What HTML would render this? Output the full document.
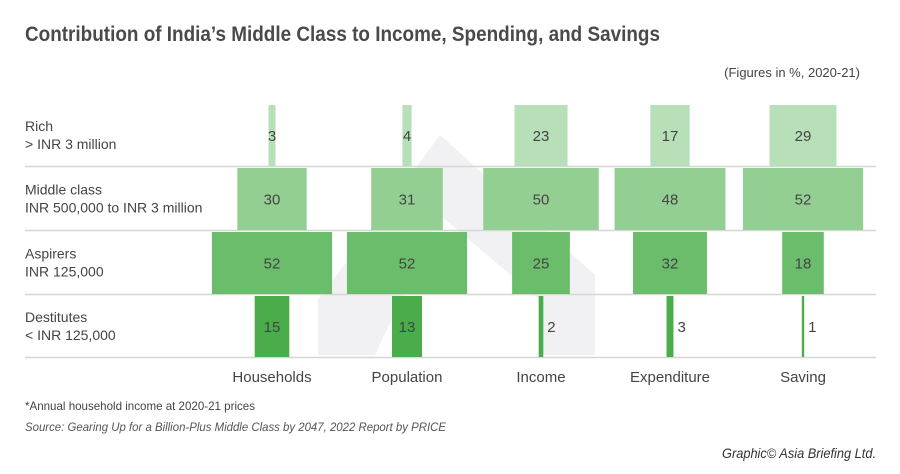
<!DOCTYPE html>
<html><head><meta charset="utf-8"><style>
body{margin:0;background:#fff}
svg{display:block;font-family:"Liberation Sans Narrow","Liberation Sans",sans-serif}
</style></head><body>
<svg id="chart" width="900" height="474" viewBox="0 0 900 474">
<polygon points="318,355 318,300 440,135 595,275 595,355 540,355 540,300 440,215 375,355" fill="#f1f1f4"/>
<text x="25" y="41" font-size="21" font-weight="bold" fill="#4a4a4a" textLength="635" lengthAdjust="spacingAndGlyphs">Contribution of India’s Middle Class to Income, Spending, and Savings</text>
<text x="860" y="77" font-size="13" fill="#444" text-anchor="end">(Figures in %, 2020-21)</text>
<g id="rows"></g>
<g id="bars"></g>
<text x="25" y="410" font-size="12" fill="#444" textLength="230" lengthAdjust="spacingAndGlyphs">*Annual household income at 2020-21 prices</text>
<text x="25" y="431" font-size="12" font-style="italic" fill="#555" textLength="421" lengthAdjust="spacingAndGlyphs">Source: Gearing Up for a Billion-Plus Middle Class by 2047, 2022 Report by PRICE</text>
<text x="722" y="458" font-size="14" font-style="italic" fill="#333" textLength="154" lengthAdjust="spacingAndGlyphs">Graphic© Asia Briefing Ltd.</text>
</svg>
<script>
const categories=["Households","Population","Income","Expenditure","Saving"];
const groups=["Rich","Middle class","Aspirers","Destitutes"];
const groupSub=["> INR 3 million","INR 500,000 to INR 3 million","INR 125,000","< INR 125,000"];
const rich=[3,4,23,17,29];
const middle=[30,31,50,48,52];
const aspirers=[52,52,25,32,18];
const destitutes=[15,13,2,3,1];
const series=[rich,middle,aspirers,destitutes];
const colors=["#b6dfb6","#8fcd8f","#66bb66","#44a944"];
const colX=[272,407,541,670,803];
const rowTop=[104,167,231,295],rowBot=[166,230,294,357];
const scale=2.31;
const NS="http://www.w3.org/2000/svg";
const rowsG=document.getElementById('rows'),barsG=document.getElementById('bars');
function mk(tag,attrs,parent,text){const e=document.createElementNS(NS,tag);for(const k in attrs)e.setAttribute(k,attrs[k]);if(text!=null)e.textContent=text;parent.appendChild(e);return e;}
groups.forEach((g,r)=>{
  const l=mk('line',{x1:25,x2:876,y1:rowBot[r]+0.5,y2:rowBot[r]+0.5,stroke:'#d6d6d6','stroke-width':1.5},rowsG);
  
  
  const mid=(rowTop[r]+rowBot[r])/2;
  const t1=mk('text',{x:25,y:mid-4,'font-size':14,fill:'#444'},rowsG,g);
  
  
  const t2=mk('text',{x:25,y:mid+14,'font-size':14,fill:'#444'},rowsG,groupSub[r]);
  
  
});
series.forEach((vals,r)=>{
  vals.forEach((v,c)=>{
    const w=v*scale;
    const b=mk('rect',{x:colX[c]-w/2,y:rowTop[r]+1,width:w,height:rowBot[r]-rowTop[r]-1,fill:colors[r],opacity:0.97},barsG);
    
    
    const small=w<20;
    const t=mk('text',{x:small?colX[c]+w/2+4:colX[c],y:(rowTop[r]+rowBot[r])/2+6,'font-size':15,fill:'#444','text-anchor':small&&r>0?'start':'middle'},barsG,String(v));
    if(r===0&&small)t.setAttribute('x',colX[c]);
    
    
  });
});
categories.forEach((c,i)=>{
  const t=mk('text',{x:colX[i],y:382,'font-size':15,fill:'#444','text-anchor':'middle'},barsG,c);
  
  
});
</script>
</body></html>
